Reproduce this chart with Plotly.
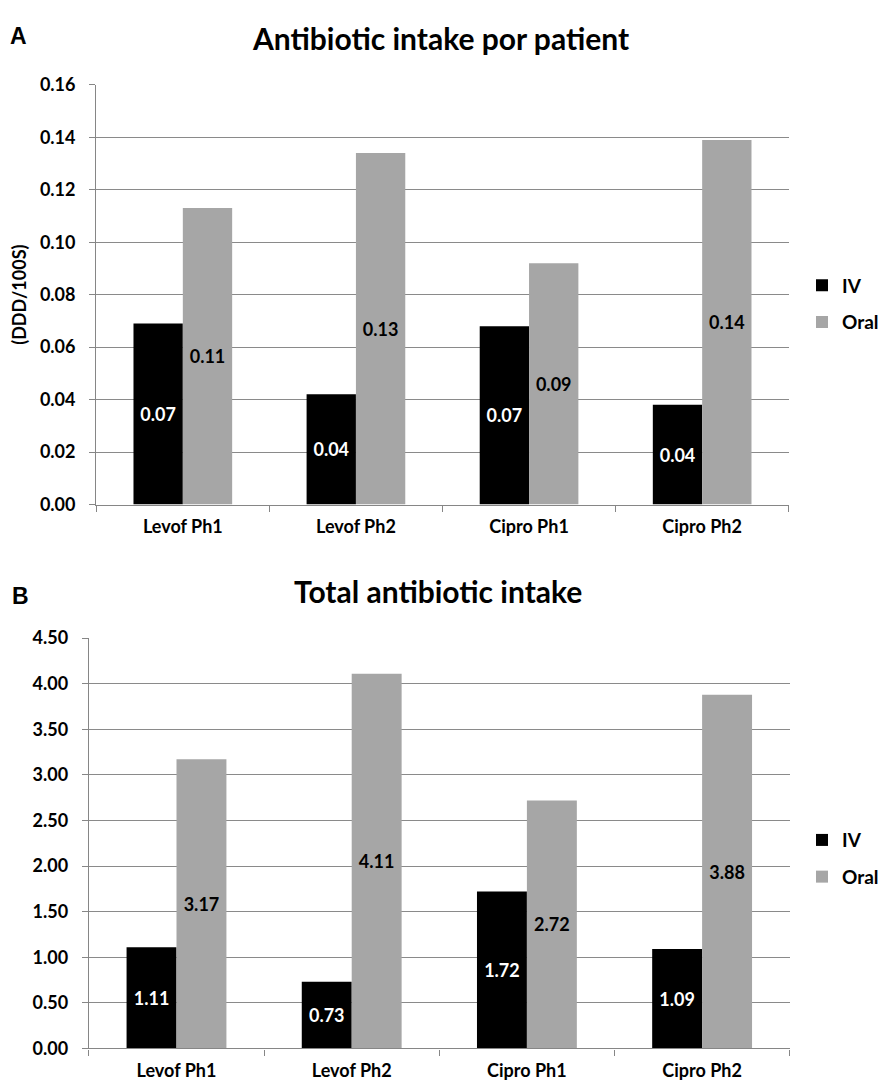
import plotly.graph_objects as go

# Categories and series values
categories = ["Levof Ph1", "Levof Ph2", "Cipro Ph1", "Cipro Ph2"]
iv_per_patient = [0.069, 0.042, 0.068, 0.038]
oral_per_patient = [0.113, 0.134, 0.092, 0.139]
iv_total = [1.11, 0.73, 1.72, 1.09]
oral_total = [3.17, 4.11, 2.72, 3.88]

# Y tick values
per_patient_ticks = [0.00, 0.02, 0.04, 0.06, 0.08, 0.10, 0.12, 0.14, 0.16]
total_ticks = [0.0, 0.5, 1.0, 1.5, 2.0, 2.5, 3.0, 3.5, 4.0, 4.5]

FONT = "Lato"
IV_COLOR = "#000000"
ORAL_COLOR = "#a6a6a6"
AXIS_COLOR = "#868686"
GRID_COLOR = "#8a8a8a"

W, H = 884, 1091


def px_x(x):
    return x / W


def px_y(y):
    return 1 - y / H


fig = go.Figure()


def add_pair(iv, oral, xa, ya, legend):
    fig.add_trace(go.Bar(
        x=categories, y=iv, name="IV", marker=dict(color=IV_COLOR, line=dict(width=0)),
        texttemplate="%{y:.2f}", textposition="inside", insidetextanchor="middle",
        textangle=0, constraintext="none",
        textfont=dict(family=FONT, size=18, color="white", weight="bold"),
        xaxis=xa, yaxis=ya, legend=legend, legendgroup=legend + "iv",
        hoverinfo="skip",
    ))
    fig.add_trace(go.Bar(
        x=categories, y=oral, name="Oral", marker=dict(color=ORAL_COLOR, line=dict(width=0)),
        texttemplate="%{y:.2f}", textposition="inside", insidetextanchor="middle",
        textangle=0, constraintext="none",
        textfont=dict(family=FONT, size=18, color="black", weight="bold"),
        xaxis=xa, yaxis=ya, legend=legend, legendgroup=legend + "oral",
        hoverinfo="skip",
    ))


add_pair(iv_per_patient, oral_per_patient, "x", "y", "legend")
add_pair(iv_total, oral_total, "x2", "y2", "legend2")

tick_font = dict(family=FONT, size=18, color="black", weight="bold")

xaxis_common = dict(
    type="category", showline=True, linecolor=AXIS_COLOR, linewidth=1.3,
    ticks="outside", tickson="boundaries", ticklen=6, tickcolor=AXIS_COLOR,
    tickwidth=1.3, tickfont=tick_font, showgrid=False, zeroline=False,
    ticklabelstandoff=6,
)
yaxis_common = dict(
    showline=True, linecolor=AXIS_COLOR, linewidth=1.3,
    ticks="outside", ticklen=6, tickcolor=AXIS_COLOR, tickwidth=1.3,
    tickfont=tick_font, showgrid=True, gridcolor=GRID_COLOR, gridwidth=1.3,
    zeroline=False, tickformat=".2f", ticklabelstandoff=10,
)

legend_font = dict(family=FONT, size=19, weight="bold")

fig.update_layout(
    width=W, height=H,
    margin=dict(l=0, r=0, t=0, b=0),
    paper_bgcolor="white", plot_bgcolor="white",
    bargap=0.43, bargroupgap=0, barmode="group",
    font=dict(family=FONT, color="black"),
    xaxis=dict(domain=[px_x(96.7), px_x(792.3)], anchor="y", **xaxis_common),
    yaxis=dict(domain=[px_y(502.7), px_y(74.3)], anchor="x", range=[0, 0.16],
               tickvals=per_patient_ticks,
               title=dict(text="(DDD/100S)", standoff=8,
                          font=dict(family=FONT, size=18, weight="bold")),
               **yaxis_common),
    xaxis2=dict(domain=[px_x(89.3), px_x(793.3)], anchor="y2", **xaxis_common),
    yaxis2=dict(domain=[px_y(1057.7), px_y(639)], anchor="x2", range=[0, 4.5],
                tickvals=total_ticks, **yaxis_common),
    legend=dict(x=px_x(806), y=px_y(298), xanchor="left", yanchor="middle",
                font=legend_font, tracegroupgap=9, itemwidth=30,
                bgcolor="rgba(0,0,0,0)"),
    legend2=dict(x=px_x(806), y=px_y(864), xanchor="left", yanchor="middle",
                 font=legend_font, tracegroupgap=9, itemwidth=30,
                 bgcolor="rgba(0,0,0,0)"),
    annotations=[
        dict(text="Antibiotic intake por patient", x=px_x(442.5), y=px_y(27),
             xref="paper", yref="paper", showarrow=False,
             xanchor="center", yanchor="middle",
             font=dict(family=FONT, size=30, weight="bold")),
        dict(text="Total antibiotic intake", x=px_x(440), y=px_y(591),
             xref="paper", yref="paper", showarrow=False,
             xanchor="center", yanchor="middle",
             font=dict(family=FONT, size=30, weight="bold")),
        dict(text="A", x=px_x(19), y=px_y(24), xref="paper", yref="paper",
             showarrow=False, xanchor="center", yanchor="middle",
             font=dict(family="Liberation Sans", size=23, weight="bold")),
        dict(text="B", x=px_x(21), y=px_y(596), xref="paper", yref="paper",
             showarrow=False, xanchor="center", yanchor="middle",
             font=dict(family="Liberation Sans", size=23, weight="bold")),
    ],
)

fig.write_html("out.html")
